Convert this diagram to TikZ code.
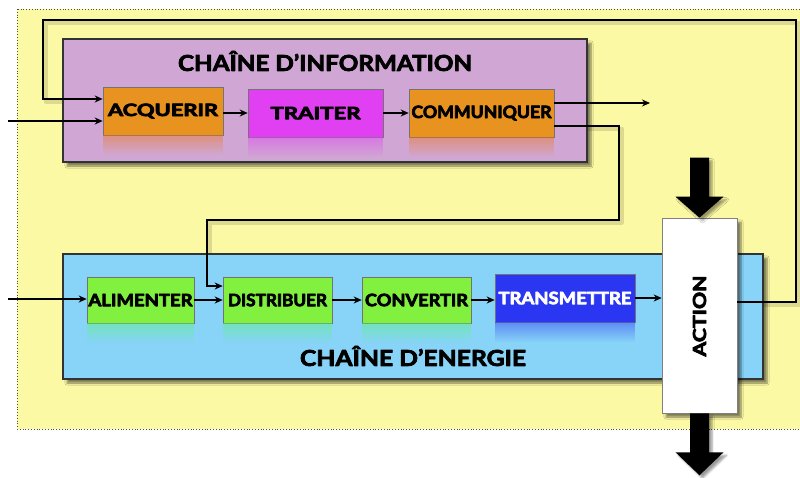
\documentclass[tikz,border=0pt]{standalone}
\usepackage{fontspec}
\setmainfont{Lato}
\usetikzlibrary{arrows.meta,shadows.blur,fadings}

\definecolor{bgyellow}{HTML}{FCF9A4}
\definecolor{infopurple}{HTML}{D0A7D4}
\definecolor{acqorange}{HTML}{E8921F}
\definecolor{traitmag}{HTML}{E040F2}
\definecolor{energyblue}{HTML}{88D4F8}
\definecolor{stepgreen}{HTML}{82F03E}
\definecolor{transblue}{HTML}{2A36F2}

% heavy lettering: fill and stroke the glyph outlines
\newcommand{\heavy}[1]{\special{pdf:literal direct 2 Tr 0.7 w 1 j}#1\special{pdf:literal direct 0 Tr}}
% stretch a label to a given width, keeping its natural height
\newcommand{\lbl}[2]{\resizebox{#1}{\height}{\heavy{#2}}}

\begin{document}
\begin{tikzpicture}[x=1pt,y=-1pt,
  chainbox/.style={draw=black!80, line width=1.2pt, inner sep=0pt,
    blur shadow={shadow xshift=4pt, shadow yshift=-4pt, shadow blur steps=6, shadow opacity=50}},
  stepbox/.style={draw=black!55, line width=0.6pt, inner sep=0pt,
    font=\bfseries\fontsize{17}{17}\selectfont},
  title/.style={font=\bfseries\fontsize{22}{22}\selectfont},
  link/.style={line width=1.6pt, -{Stealth[length=8pt,width=7pt]}},
  linkshade/.style={line width=4pt, black, opacity=.12, line join=round, transform canvas={xshift=2.5pt, yshift=-2.5pt}},
  mirror/.style={fill=#1, path fading=south, opacity=.45},
  bigarrow/.style={fill=black,
    blur shadow={shadow xshift=3pt, shadow yshift=-3pt, shadow blur steps=5, shadow opacity=40}},
]
\useasboundingbox (0,0) rectangle (800,477);

% background panel
\path[fill=bgyellow, draw=black!70, dotted, line width=0.8pt] (17,9) rectangle (806,429);

% connection points
\coordinate (inA) at (8,121);
\coordinate (inE) at (8,299);
\coordinate (out) at (650,103);
\coordinate (fbR) at (796,302);
\coordinate (fbTop) at (43,20);
\coordinate (fbIn) at (43,99);
\coordinate (c1) at (619,126);
\coordinate (c2) at (207,220);
\coordinate (c3) at (207,286);

% soft shadows under the long connectors
\draw[linkshade] (738,302) -- (fbR) -- (fbR |- fbTop) -- (fbTop) -- (fbIn) -- (100,99);
\draw[linkshade] (554,126) -- (c1) -- (c1 |- c2) -- (c2) -- (c3) -- (220,286);

% information chain
\node[chainbox, fill=infopurple, minimum width=524pt, minimum height=123pt] (info) at (325,100.5) {};
\node[title] (infotitle) at (325,61) {\lbl{294pt}{CHAÎNE D’INFORMATION}};

\node[stepbox, fill=acqorange, minimum width=120pt, minimum height=48pt] (acq) at (163,111) {\lbl{110pt}{ACQUERIR}};
\node[stepbox, fill=traitmag, minimum width=135pt, minimum height=48pt] (trait) at (315.5,113) {\lbl{90pt}{TRAITER}};
\node[stepbox, fill=acqorange, minimum width=145pt, minimum height=48pt] (comm) at (481.5,113) {\lbl{140pt}{COMMUNIQUER}};

\fill[mirror=acqorange!80!red] (acq.south west) rectangle ([yshift=-20pt]acq.south east);
\fill[mirror=traitmag] (trait.south west) rectangle ([yshift=-20pt]trait.south east);
\fill[mirror=acqorange!80!red] (comm.south west) rectangle ([yshift=-20pt]comm.south east);

% energy chain
\node[chainbox, fill=energyblue, minimum width=700pt, minimum height=125pt] (energy) at (413,316.5) {};
\node[title] (energytitle) at (413,356) {\lbl{226pt}{CHAÎNE D’ENERGIE}};

\node[stepbox, fill=stepgreen, minimum width=107pt, minimum height=46pt] (alim) at (140.5,300) {\lbl{104pt}{ALIMENTER}};
\node[stepbox, fill=stepgreen, minimum width=109pt, minimum height=46pt] (dist) at (277.5,300) {\lbl{99pt}{DISTRIBUER}};
\node[stepbox, fill=stepgreen, minimum width=109pt, minimum height=46pt] (conv) at (416.5,300) {\lbl{103pt}{CONVERTIR}};
\node[stepbox, fill=transblue, text=white, minimum width=140pt, minimum height=48pt] (trans) at (565,298) {\lbl{133pt}{TRANSMETTRE}};

\fill[mirror=stepgreen!70!cyan] (alim.south west) rectangle ([yshift=-20pt]alim.south east);
\fill[mirror=stepgreen!70!cyan] (dist.south west) rectangle ([yshift=-20pt]dist.south east);
\fill[mirror=stepgreen!70!cyan] (conv.south west) rectangle ([yshift=-20pt]conv.south east);
\fill[mirror=transblue] (trans.south west) rectangle ([yshift=-20pt]trans.south east);

% action block
\node[chainbox, draw=black!50, line width=0.6pt, fill=white, minimum width=75pt, minimum height=195pt] (action) at (699.5,315.5) {};
\node[rotate=90, font=\bfseries\fontsize{18}{18}\selectfont] (actionlbl) at (699.5,316) {\lbl{81pt}{ACTION}};

% thick arrows in and out of the action block
\path[bigarrow] (action.north) -- ++(-24,-21) -- ++(14.5,0) -- ++(0,-39) -- ++(19,0) -- ++(0,39) -- ++(14.5,0) -- cycle;
\path[bigarrow] ([xshift=-9.5pt]action.south) -- ++(0,39) -- ++(-14.5,0) -- ++(24,23) -- ++(24,-23) -- ++(-14.5,0) -- ++(0,-39) -- cycle;

% information flow
\draw[link] (inA) -- (inA -| acq.west);
\draw[link] (acq.east |- trait.west) -- (trait.west);
\draw[link] (trait.east) -- (comm.west);
\draw[link] (comm.east |- out) -- (out);
\draw[link] (comm.east |- c1) -- (c1) -- (c1 |- c2) -- (c2) -- (c3) -- (c3 -| dist.west);

% energy flow
\draw[link] (inE) -- (inE -| alim.west);
\draw[link] (alim.east) -- (dist.west);
\draw[link] (dist.east) -- (conv.west);
\draw[link] (conv.east) -- (conv.east -| trans.west);
\draw[link] (trans.east) -- (trans.east -| action.west);

% feedback loop from the action back to acquisition
\draw[link] (action.east |- fbR) -- (fbR) -- (fbR |- fbTop) -- (fbTop) -- (fbIn) -- (fbIn -| acq.west);
\end{tikzpicture}
\end{document}
